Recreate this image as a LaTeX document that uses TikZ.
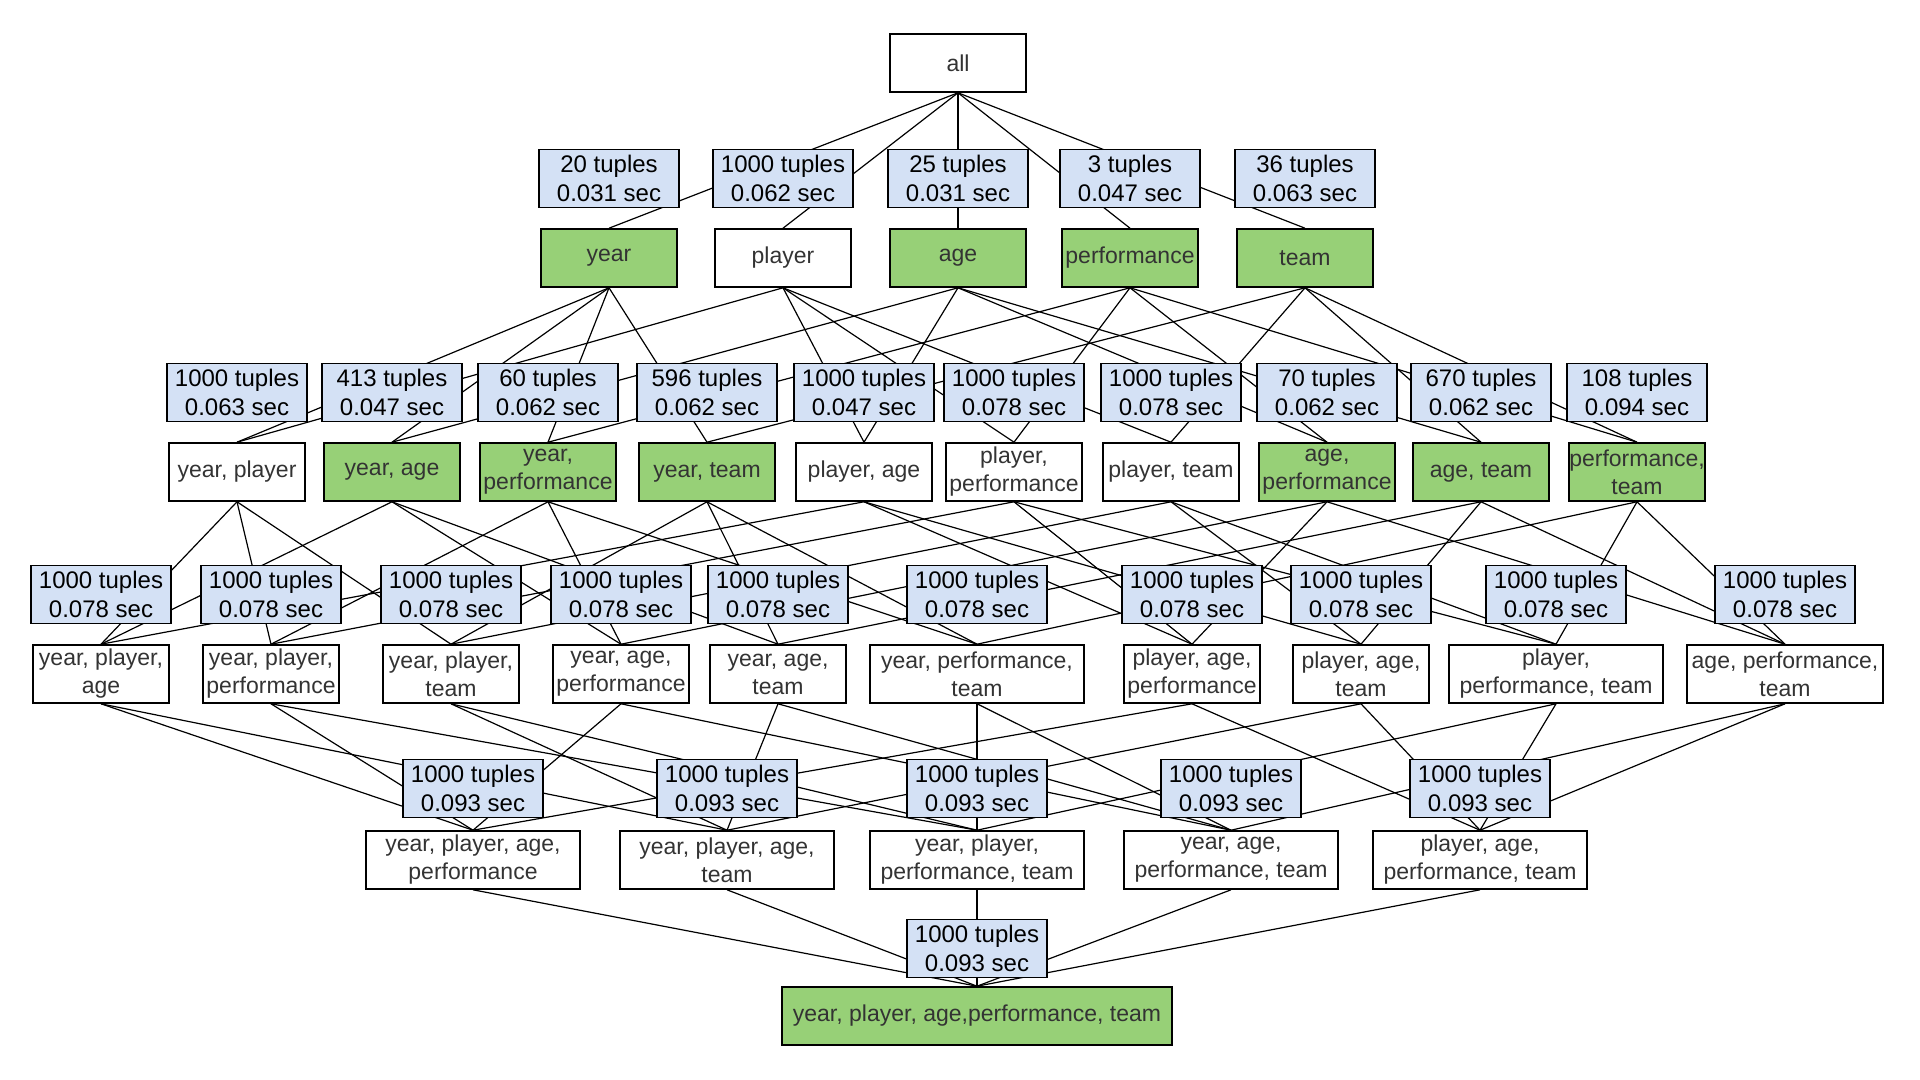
\documentclass[tikz,border=0pt]{standalone}
\usepackage{fontspec}
\setmainfont{Liberation Sans}
\usetikzlibrary{positioning}
\definecolor{cubegreen}{RGB}{151,208,119}
\definecolor{infoblue}{RGB}{212,225,245}

\begin{document}
\begin{tikzpicture}[x=0.5pt, y=-0.5pt,
    box/.style={draw, line width=0.8pt, minimum width=68pt, minimum height=29pt, inner sep=0pt,
                align=center, text=black!80, font=\fontsize{11.5}{14}\selectfont},
    mat/.style={box, fill=cubegreen},
    info/.style={box, fill=infoblue, minimum width=70pt, text=black, font=\fontsize{12}{14.5}\selectfont},
    link/.style={line width=0.6pt}]
    \useasboundingbox (0,0) rectangle (1920,1080);
    % Wurzel
    \node[box] (all) at (958,63) {all};
    % einzelne Attribute
    \node[mat] (Y) at (609,258) {year};
    \node[box] (P) at (783,258) {player};
    \node[mat] (A) at (958,258) {age};
    \node[mat] (F) at (1130,258) {performance};
    \node[mat] (T) at (1305,258) {team};
    % Paare
    \node[box] (YP) at (237,472) {year, player};
    \node[mat] (YA) at (392,472) {year, age};
    \node[mat] (YF) at (548,472) {year,\\performance};
    \node[mat] (YT) at (707,472) {year, team};
    \node[box] (PA) at (864,472) {player, age};
    \node[box] (PF) at (1014,472) {player,\\performance};
    \node[box] (PT) at (1171,472) {player, team};
    \node[mat] (AF) at (1327,472) {age,\\performance};
    \node[mat] (AT) at (1481,472) {age, team};
    \node[mat] (FT) at (1637,472) {performance,\\team};
    % Tripel
    \node[box] (YPA) at (101,674) {year, player,\\age};
    \node[box] (YPF) at (271,674) {year, player,\\performance};
    \node[box] (YPT) at (451,674) {year, player,\\team};
    \node[box] (YAF) at (621,674) {year, age,\\performance};
    \node[box] (YAT) at (778,674) {year, age,\\team};
    \node[box, minimum width=107pt] (YFT) at (977,674) {year, performance,\\team};
    \node[box] (PAF) at (1192,674) {player, age,\\performance};
    \node[box] (PAT) at (1361,674) {player, age,\\team};
    \node[box, minimum width=107pt] (PFT) at (1556,674) {player,\\performance, team};
    \node[box, minimum width=98pt] (AFT) at (1785,674) {age, performance,\\team};
    % Quadrupel
    \node[box, minimum width=107pt] (YPAF) at (473,860) {year, player, age,\\performance};
    \node[box, minimum width=107pt] (YPAT) at (727,860) {year, player, age,\\team};
    \node[box, minimum width=107pt] (YPFT) at (977,860) {year, player,\\performance, team};
    \node[box, minimum width=107pt] (YAFT) at (1231,860) {year, age,\\performance, team};
    \node[box, minimum width=107pt] (PAFT) at (1480,860) {player, age,\\performance, team};
    % alle Attribute
    \node[mat, minimum width=195pt] (YPAFT) at (977,1016) {year, player, age,performance, team};
    % Kanten
    \foreach \b in {Y,P,A,F,T} \draw[link] (all.south) -- (\b.north);
    \foreach \a/\b in {Y/YP,P/YP,Y/YA,A/YA,Y/YF,F/YF,Y/YT,T/YT,P/PA,A/PA,P/PF,F/PF,P/PT,T/PT,A/AF,F/AF,A/AT,T/AT,F/FT,T/FT}
        \draw[link] (\a.south) -- (\b.north);
    \foreach \a/\b in {YP/YPA,YA/YPA,PA/YPA,YP/YPF,YF/YPF,PF/YPF,YP/YPT,YT/YPT,PT/YPT,YA/YAF,YF/YAF,AF/YAF,
                       YA/YAT,YT/YAT,AT/YAT,YF/YFT,YT/YFT,FT/YFT,PA/PAF,PF/PAF,AF/PAF,PA/PAT,PT/PAT,AT/PAT,
                       PF/PFT,PT/PFT,FT/PFT,AF/AFT,AT/AFT,FT/AFT}
        \draw[link] (\a.south) -- (\b.north);
    \foreach \a/\b in {YPA/YPAF,YPF/YPAF,YAF/YPAF,PAF/YPAF,YPA/YPAT,YPT/YPAT,YAT/YPAT,PAT/YPAT,
                       YPF/YPFT,YPT/YPFT,YFT/YPFT,PFT/YPFT,YAF/YAFT,YAT/YAFT,YFT/YAFT,AFT/YAFT,
                       PAF/PAFT,PAT/PAFT,PFT/PAFT,AFT/PAFT}
        \draw[link] (\a.south) -- (\b.north);
    \foreach \a in {YPAF,YPAT,YPFT,YAFT,PAFT} \draw[link] (\a.south) -- (YPAFT.north);
    % Laufzeiten (ueber den Kanten)
    \foreach \n/\t/\s in {Y/20/0.031,P/1000/0.062,A/25/0.031,F/3/0.047,T/36/0.063,
                          YP/1000/0.063,YA/413/0.047,YF/60/0.062,YT/596/0.062,PA/1000/0.047,
                          PF/1000/0.078,PT/1000/0.078,AF/70/0.062,AT/670/0.062,FT/108/0.094}
        \node[info, above=10pt of \n] (i\n) {\t{} tuples\\\s{} sec};
    \foreach \n in {YPA,YPF,YPT,YAF,YAT,YFT,PAF,PAT,PFT,AFT}
        \node[info, above=10pt of \n] (i\n) {1000 tuples\\0.078 sec};
    \foreach \n in {YPAF,YPAT,YPFT,YAFT,PAFT}
        \node[info, above=6pt of \n] (i\n) {1000 tuples\\0.093 sec};
    \node[info, above=4pt of YPAFT] (iYPAFT) {1000 tuples\\0.093 sec};
\end{tikzpicture}
\end{document}
